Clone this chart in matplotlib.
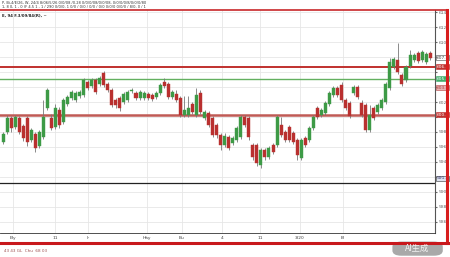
import matplotlib.pyplot as plt
from matplotlib.lines import Line2D
from matplotlib.patches import FancyBboxPatch

# candle data
opens = [596.7, 598.0, 599.9, 598.7, 599.9, 598.8, 599.9, 596.9, 597.7, 596.1,
         597.3, 601.2, 599.9, 598.7, 600.9, 599.3, 601.7, 602.5, 602.3, 602.8,
         602.9, 604.7, 604.1, 604.9, 604.4, 605.9, 604.4, 603.6, 602.3, 602.5,
         602.0, 602.3, 603.5, 603.2, 602.5, 602.5, 603.1, 602.9, 602.7, 603.2,
         604.7, 604.4, 602.7, 603.1, 602.5, 600.3, 600.3, 601.7, 600.3, 603.2,
         599.9, 600.5, 599.9, 598.9, 597.6, 596.3, 597.3, 596.5, 596.9, 597.3,
         600.0, 599.9, 596.3, 596.3, 593.6, 595.6, 594.7, 596.3, 596.3, 598.9,
         598.0, 598.7, 597.9, 596.9, 594.5, 597.2, 596.9, 598.5, 601.2, 600.3,
         600.5, 601.7, 602.9, 603.9, 604.3, 602.3, 601.9, 603.2, 604.0, 601.9,
         601.6, 598.3, 601.2, 600.7, 601.2, 602.0, 603.9, 606.7, 607.6, 605.6,
         604.9, 606.8, 607.6, 608.5, 607.6, 607.3, 608.5]
closes = [597.7, 599.9, 598.5, 600.0, 598.0, 597.2, 596.7, 598.3, 595.9, 598.0,
          600.0, 603.6, 598.5, 601.2, 598.9, 602.3, 602.7, 603.3, 603.2, 603.3,
          604.9, 603.9, 604.9, 603.3, 605.2, 604.3, 603.6, 601.6, 601.6, 601.2,
          603.1, 603.3, 603.6, 602.5, 603.3, 603.2, 602.5, 602.4, 603.2, 604.3,
          604.1, 602.7, 603.3, 602.3, 600.3, 600.9, 601.2, 600.7, 602.9, 600.7,
          600.7, 598.9, 597.6, 597.6, 596.3, 597.5, 595.9, 597.2, 598.5, 600.0,
          598.9, 597.3, 594.7, 593.9, 595.6, 594.7, 595.9, 595.3, 600.0, 597.6,
          596.9, 596.9, 596.7, 594.9, 596.9, 596.3, 598.5, 600.0, 600.0, 600.9,
          601.9, 603.2, 603.9, 602.9, 602.3, 601.2, 600.1, 604.0, 602.7, 600.3,
          598.3, 600.3, 599.9, 601.6, 602.3, 604.4, 607.3, 607.7, 606.0, 604.4,
          606.7, 608.3, 608.3, 607.5, 608.7, 608.4, 607.9]
highs = [598.0, 600.3, 600.1, 600.3, 600.1, 599.1, 600.1, 598.5, 598.0, 598.3,
         602.3, 603.9, 600.4, 601.7, 601.3, 602.5, 602.9, 603.6, 603.5, 603.6,
         605.2, 604.9, 605.2, 605.2, 605.5, 606.1, 604.7, 603.9, 602.5, 602.8,
         603.3, 603.6, 603.9, 603.5, 603.6, 603.5, 603.3, 603.2, 603.5, 604.5,
         605.2, 604.7, 603.6, 603.6, 602.8, 602.8, 602.8, 602.0, 603.9, 603.6,
         600.9, 600.8, 600.1, 599.2, 597.9, 597.9, 597.6, 597.5, 598.8, 600.3,
         600.3, 600.1, 596.5, 596.5, 595.9, 595.9, 596.1, 596.5, 600.3, 600.0,
         598.3, 598.9, 598.1, 597.2, 597.2, 597.5, 598.8, 600.3, 601.5, 601.2,
         602.1, 603.5, 604.1, 604.1, 604.7, 602.5, 602.1, 604.3, 604.3, 602.3,
         601.9, 601.6, 601.5, 601.9, 602.5, 604.7, 607.9, 608.0, 609.9, 605.9,
         606.9, 608.9, 608.5, 608.8, 608.9, 608.7, 608.8]
lows = [596.4, 597.7, 598.0, 598.4, 597.7, 596.8, 596.1, 596.7, 595.3, 595.9,
        597.1, 600.9, 598.3, 598.4, 598.5, 599.1, 601.5, 602.3, 602.0, 602.5,
        602.7, 603.6, 603.9, 603.1, 604.1, 604.0, 603.3, 601.3, 601.2, 600.8,
        601.7, 602.0, 603.2, 602.3, 602.3, 602.3, 602.3, 602.1, 602.4, 602.9,
        603.9, 602.4, 602.4, 602.0, 600.0, 600.0, 600.0, 600.4, 600.0, 600.4,
        599.6, 598.7, 597.3, 597.2, 595.6, 596.0, 595.6, 596.3, 596.7, 597.1,
        598.7, 596.9, 594.3, 593.5, 593.2, 594.3, 594.4, 595.1, 596.0, 597.3,
        596.7, 596.7, 596.4, 594.3, 594.3, 596.0, 596.7, 598.3, 599.7, 600.0,
        600.3, 601.5, 602.7, 602.7, 602.0, 600.9, 599.9, 602.9, 602.4, 600.0,
        598.0, 598.0, 599.6, 600.4, 600.9, 601.7, 603.6, 606.4, 605.7, 604.1,
        604.7, 606.5, 607.3, 607.2, 607.3, 607.1, 607.6]

x_tick_pos = [2.5, 13, 21, 35.7, 44.4, 54.3, 63.8, 73.7, 84.4]
x_tick_labels = ["Ely", "11", "Ir", "Hày", "Bu", "4", "11", "3/20", "Bi"]
price_ticks = [586, 588, 590, 592, 594, 596, 598, 600, 602, 604, 606, 608, 610, 612, 614]

resist_level = 606.7
green_level = 605.1
support_level = 600.3
black_level = 591.2

GREEN = "#3d9a46"
RED = "#b9302f"

fig = plt.figure(figsize=(4.5, 2.57), dpi=100)
ax = fig.add_axes([0.0, 0.0934, 0.9667, 0.8677])

n = len(opens)
idx = list(range(n))
body_bottom = [min(o, c) for o, c in zip(opens, closes)]
body_height = [max(abs(c - o), 0.12) for o, c in zip(opens, closes)]
colors = [GREEN if c >= o else RED for o, c in zip(opens, closes)]

ax.vlines(idx, lows, highs, colors="#777777", linewidth=0.6, zorder=3)
ax.bar(idx, body_height, bottom=body_bottom, width=0.75, color=colors,
       edgecolor=colors, linewidth=0.3, zorder=4)

ax.axhline(resist_level, color="#c0302e", linewidth=1.4, zorder=2)
ax.axhline(green_level, color="#63b060", linewidth=1.0, zorder=2)
ax.axhline(support_level, color="#c05a55", linewidth=1.8, zorder=2)
ax.axhline(black_level, color="#222222", linewidth=0.9, zorder=2)

ax.set_xlim(-0.75, 107.2)
ax.set_ylim(584.53, 614.27)

# labels hidden where a price box sits on top
boxed = {592, 604, 606, 608}
ax.set_yticks(price_ticks)
ax.set_yticklabels(["" if t in boxed else str(t) for t in price_ticks])
ax.yaxis.tick_right()
ax.tick_params(axis="y", labelsize=3.2, colors="#666666", length=1.5, pad=1)
ax.set_xticks(x_tick_pos)
ax.set_xticklabels(x_tick_labels)
ax.tick_params(axis="x", labelsize=3.2, colors="#444444", length=0, pad=2)

ax.grid(True, color="#e6e6e6", linewidth=0.6)
ax.set_axisbelow(True)
for side in ["top", "left"]:
    ax.spines[side].set_visible(False)
ax.spines["right"].set_color("#555555")
ax.spines["right"].set_linewidth(0.8)
ax.spines["bottom"].set_color("#333333")
ax.spines["bottom"].set_linewidth(0.6)

# price boxes on the right scale
trans = ax.get_yaxis_transform()
boxes = [
    (607.9, "607.9", "#ffffff", "#444444", "#444444"),
    (resist_level, "606.7", "#c0302e", "#c0302e", "#ffffff"),
    (green_level, "605.1", "#3fae6a", "#3fae6a", "#ffffff"),
    (603.9, "603.9", "#e7b5b5", "#b04040", "#b04040"),
    (support_level, "600.3", "#c0302e", "#c0302e", "#ffffff"),
    (black_level + 0.6, "591.8", "#dde3f0", "#333333", "#333366"),
]
for level, text, face, edge, tcol in boxes:
    ax.text(1.003, level, text, transform=trans, fontsize=3.2, color=tcol,
            va="center", ha="left", zorder=6,
            bbox=dict(boxstyle="square,pad=0.15", facecolor=face,
                      edgecolor=edge, linewidth=0.4),
            clip_on=False)

# red frame
fig.add_artist(Line2D([0, 0.995], [0.961, 0.961], transform=fig.transFigure,
                      color="#c8282a", linewidth=1.2))
fig.add_artist(Line2D([0.993, 0.993], [0.054, 0.961], transform=fig.transFigure,
                      color="#d81e1e", linewidth=2.2))
fig.add_artist(Line2D([0, 0.995], [0.054, 0.054], transform=fig.transFigure,
                      color="#c8181c", linewidth=2.2))

# header and footer text
fig.text(0.005, 0.988, "P, Bi-4/E/26, W, 24/4 8/06/5/26 0/0/08 /0.28 0/0/0/08/0/0/08, 0/0/0/0/8/0/0/0/80",
         fontsize=2.6, color="#333333", va="center")
fig.text(0.005, 0.972, "1, 8 0, 1 - 0 (F 4.5 1 - 1 / 290 0/0/0, 1 0/0 / 0/0 / 0/0 / 0/0 0/0/0 0/0/0 / 8/0, 0 / 1",
         fontsize=2.6, color="#333333", va="center")
fig.text(0.005, 0.940, "E, 94 F.3/09/84(R), ~", fontsize=2.8, color="#222222",
         va="center", fontweight="bold")
fig.text(0.01, 0.025, "43 43 GL  Chu  68 03", fontsize=3.0, color="#a05050", va="center")

# watermark
badge = FancyBboxPatch((0.872, 0.005), 0.112, 0.055, boxstyle="round,pad=0,rounding_size=0.02",
                       transform=fig.transFigure, facecolor="#9a9a9a", edgecolor="none",
                       alpha=0.85)
fig.add_artist(badge)
fig.text(0.928, 0.032, "AI生成", fontsize=6, color="#f2f2f2", ha="center", va="center",
         family=["Noto Sans CJK SC", "DejaVu Sans"])

fig.savefig("out.png", dpi=100)
